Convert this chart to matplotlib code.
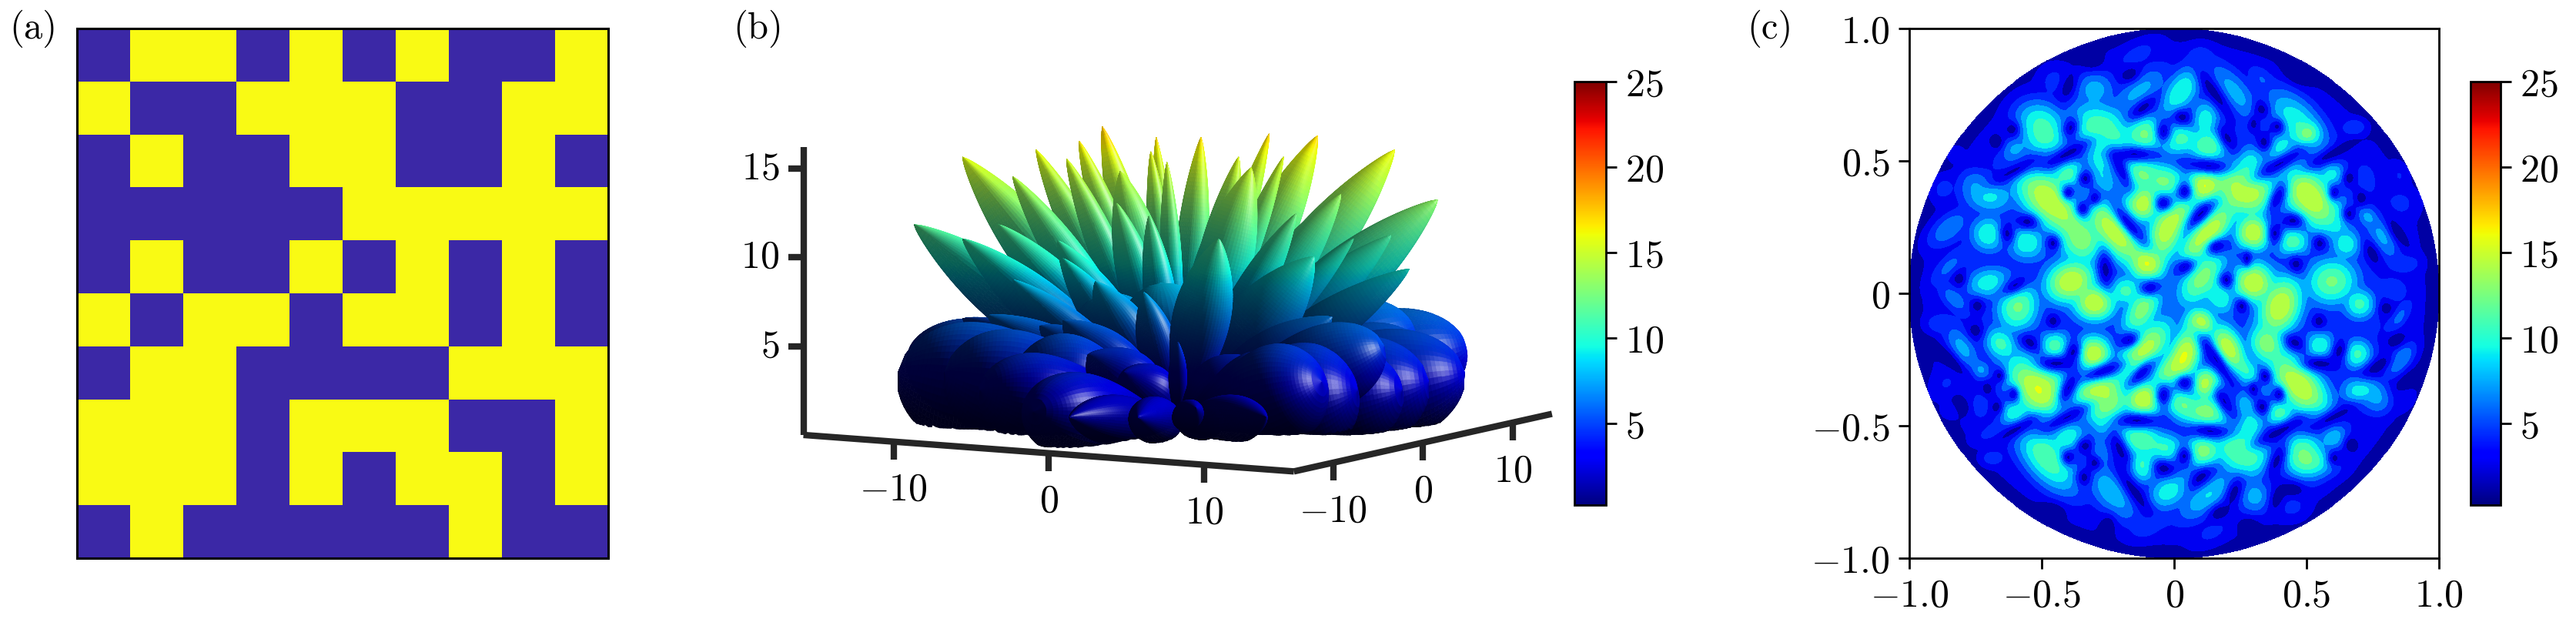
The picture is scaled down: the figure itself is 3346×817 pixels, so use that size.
import numpy as np
import matplotlib
matplotlib.use("Agg")
import matplotlib.pyplot as plt
from matplotlib.colors import ListedColormap, Normalize
from matplotlib.cm import ScalarMappable
from mpl_toolkits.mplot3d import proj3d
from mpl_toolkits.mplot3d.art3d import Poly3DCollection

plt.rcParams['mathtext.fontset'] = 'cm'
plt.rcParams['axes.unicode_minus'] = True

W, H = 3346, 817
FS = 36

# ---- panel (a): coding matrix
coding_rows = [
    [0,1,1,0,1,0,1,0,0,1],
    [1,0,0,1,1,1,0,0,1,1],
    [0,1,0,0,1,1,0,0,1,0],
    [0,0,0,0,0,1,1,1,1,1],
    [0,1,0,0,1,0,1,0,1,0],
    [1,0,1,1,0,1,1,0,1,0],
    [0,1,1,0,0,0,0,1,1,1],
    [1,1,1,0,1,1,1,0,0,1],
    [1,1,1,0,1,0,1,1,0,1],
    [0,1,0,0,0,0,0,1,0,0],
]

cbar_ticks = [5, 10, 15, 20, 25]
cbar_low, cbar_high = 0.2, 25

# ---- panel (c): bright patches
patch_u = [-.45,-.30,-.14,-.13,-.49,-.51,-.27,-.28,-.11,-.60,-.40,-.47,-.35,-.39,-.27,-.35,-.70,-.75,-.87,-.825,
           -.70,-.56,-.85,-.22,-.10,-.03,-.13,-.03,-.12,-.39,-.70,-.85,-.18,-.01,
           -.59,-.30,-.12,-.83,-.88,-.80,-.73,-.655,-.86,-.845,-.73,-.60,-.515,-.46,-.45,-.305,
           -.28,-.26,-.115,-.12,-.02,-.40,-.48,-.685,-.65,-.235,-.13,-.03,-.12,-.03,-.08,-.28,
           .025,.09,.225,.12,.13,.03,.33,.47,.505,.68,.40,.595,.85,.725,.855,.51,.265,.285,.115,.02,
           .125,.30,.445,.65,.615,.73,.79,.875,.105,.30,.595,.83,
           .40,.17,.70,.85,.85,.095,.04,.20,.275,.125,.35,.47,.55,.69,.70,.76,.35,.27,.40,.125,
           .03,.255,.285,.11,.485,.515,.60,.13,.305,.44,.145,.02,.87]
patch_v = [.80,.77,.90,.76,.60,.66,.61,.51,.60,.545,.45,.35,.20,.275,.43,.37,.37,.41,.395,.525,
           .225,.195,.245,.235,.115,.235,.45,.42,.34,.045,.04,.10,.01,.565,
           -.05,-.035,-.06,-.02,-.115,-.21,-.29,-.19,-.34,-.44,-.42,-.455,-.365,-.34,-.20,-.23,
           -.38,-.47,-.40,-.225,-.29,-.545,-.62,-.62,-.52,-.75,-.55,-.585,-.65,-.75,-.865,-.60,
           .76,.885,.76,.655,.555,.59,.81,.635,.60,.625,.545,.45,.445,.43,.34,.365,.39,.49,.405,.29,
           .225,.23,.195,.185,.255,.29,.215,.115,.06,.04,.045,.01,
           -.05,-.01,-.04,-.25,-.09,-.115,-.235,-.21,-.295,-.34,-.19,-.345,-.20,-.23,-.37,-.39,-.37,-.42,-.455,-.45,
           -.42,-.595,-.505,-.595,-.60,-.635,-.545,-.76,-.765,-.80,-.90,-.73,-.395]
patch_peak = [4,7.5,4,7.5,11,7.5,12,9,12,7,11,15,12.5,10,8,5,9,6,4,3,
              10,10,6.5,15,15,14,12,11.5,15,15,9.5,5.5,10.5,9,
              12,15,12.5,6,5,7.5,7,10.5,3.5,3.3,4.5,10,15,10,11,15,
              15,10,15,15,12,10,11.5,4.5,5.5,8,11.5,10,10.5,9,5,7,
              10,5,7.5,9.5,11.5,10,5,10,11.5,5,9.5,9,3.5,5,3.8,15,15,9,15,12,
              15,15,11,9.5,7,7,7.5,5,12.5,15,12,4.5,
              15,10,10.5,7.5,5.5,15,15,15,10,15,12.5,15,10,10.5,9.5,7.5,5,8.5,11,12.5,
              11.5,12.5,9.5,12.5,11.5,10,8,8.5,7.5,4,3.8,7.5,3.5]
patch_long = [.035,.04,.055,.065,.06,.05,.07,.04,.04,.03,.035,.085,.05,.04,.04,.018,.05,.035,.03,.018,
              .035,.04,.05,.085,.035,.07,.06,.04,.035,.05,.045,.05,.04,.04,
              .05,.04,.06,.04,.03,.05,.022,.035,.04,.02,.03,.03,.08,.04,.03,.035,
              .06,.04,.037,.075,.05,.035,.08,.025,.05,.07,.05,.04,.035,.04,.05,.04,
              .06,.03,.075,.04,.04,.04,.035,.08,.025,.025,.04,.027,.03,.03,.04,.08,.07,.04,.037,.06,
              .08,.035,.035,.03,.03,.025,.05,.03,.065,.04,.05,.03,
              .06,.04,.03,.04,.04,.03,.065,.05,.05,.03,.04,.08,.03,.03,.035,.035,.015,.035,.03,.05,
              .04,.06,.04,.035,.05,.05,.03,.07,.035,.038,.05,.05,.03]
patch_wide = [.035,.035,.025,.032,.045,.035,.05,.03,.04,.025,.03,.045,.045,.035,.022,.018,.035,.03,.025,.018,
              .035,.035,.025,.04,.035,.035,.04,.035,.035,.04,.03,.02,.03,.03,
              .04,.035,.03,.02,.02,.025,.018,.028,.03,.018,.02,.03,.045,.035,.03,.035,
              .05,.03,.037,.035,.03,.03,.04,.018,.02,.035,.035,.03,.03,.03,.025,.02,
              .03,.025,.03,.03,.035,.03,.02,.04,.025,.018,.03,.027,.02,.018,.035,.045,.05,.03,.037,.03,
              .03,.035,.03,.03,.025,.018,.03,.02,.035,.04,.045,.025,
              .04,.03,.03,.02,.015,.03,.03,.03,.025,.03,.035,.04,.03,.03,.03,.03,.015,.02,.03,.04,
              .03,.045,.03,.035,.04,.03,.025,.03,.035,.032,.025,.03,.02]
patch_tilt = [0,0,30,42,-60,-10,-30,-70,0,30,30,-45,-50,-50,-60,0,-10,-40,60,0,
              0,-20,40,-50,0,70,-15,0,0,20,10,45,0,0,
              80,0,60,-45,0,-60,-50,-50,50,0,80,0,-50,0,0,0,
              -30,-80,0,50,50,20,-50,0,20,-50,-20,-10,80,40,30,-70,
              55,30,-50,-90,0,-20,-45,-50,0,0,50,0,-70,-80,0,-50,-20,60,0,50,
              50,0,0,0,-50,-50,-60,0,55,0,10,0,
              70,-60,0,50,55,0,70,-65,-50,0,-60,-50,0,0,0,-60,0,-75,0,0,
              -30,-30,60,0,-70,0,40,40,0,0,30,50,60]

# ---- panel (c): dark streaks
gap_u = [-.405,-.60,-.15,-.20,-.337,-.40,-.30,-.345,-.17,-.04,-.457,-.63,-.554,-.67,-.61,-.81,-.60,-.26,-.31,-.167,
         -.39,-.04,-.118,-.40,-.09,
         .595,.40,.13,.20,.15,.03,.34,.30,.39,.33,.10,.38,.45,.55,.39,.04,.66,.605,.707,.66,.46,.197,.275,.46,.16,.04,.84,.75,
         -.41,-.60,-.14,-.205,-.457,-.743,-.75,-.545,-.45,-.38,-.40,-.27,-.17,-.123,-.04,-.04,-.15,-.337,-.40,-.30,-.34,-.457,
         -.845,-.66,-.705,-.607,-.67,-.806,-.25,
         .595,.40,.135,.19,.16,.038,.343,.333,.30,.396,.455,.547,.625,.77,.387,.038,.10,.227,.39,.45,.667,.605,.17,.28,.80,.837,
         .886,.256,.547]
gap_v = [.526,.465,.525,.465,.434,.38,.36,.32,.26,.34,.19,.225,.27,.57,.62,.055,.03,.09,.875,.825,
         .625,.61,.70,.78,.02,
         .526,.49,.48,.585,.76,.665,.57,.64,.63,.695,.30,.226,.275,.19,.36,.385,.435,.38,.36,.30,.82,.05,.13,.11,.177,.10,.23,.15,
         -.47,-.515,-.48,-.585,-.105,-.047,-.14,-.187,-.265,-.22,-.36,-.295,-.177,-.30,-.385,-.66,-.75,-.575,-.62,-.64,-.695,-.817,
         -.25,-.31,-.36,-.38,-.43,-.42,-.875,
         -.47,-.52,-.52,-.41,-.25,-.337,-.313,-.43,-.36,-.38,-.187,-.265,-.216,-.275,-.633,-.613,-.695,-.75,-.77,-.74,-.57,-.623,-.827,-.875,-.056,-.177,
         -.333,-.047,-.105]
gap_long = [.08,.08,.065,.06,.02,.02,.02,.025,.075,.025,.02,.03,.03,.02,.02,.02,.04,.05,.03,.03,
            .03,.03,.045,.04,.03,
            .08,.08,.06,.04,.08,.025,.025,.015,.02,.025,.05,.03,.03,.02,.05,.025,.018,.018,.018,.018,.04,.02,.015,.025,.03,.03,.06,.04,
            .08,.08,.06,.055,.02,.02,.025,.03,.05,.03,.05,.07,.03,.05,.03,.03,.08,.025,.02,.02,.025,.035,
            .07,.018,.018,.018,.018,.03,.03,
            .08,.085,.06,.05,.09,.025,.02,.02,.018,.018,.03,.05,.03,.05,.05,.025,.04,.04,.04,.03,.02,.02,.03,.03,.02,.03,
            .04,.02,.02]
gap_tilt = [28,28,0,-65,0,0,0,90,-50,0,0,-80,0,0,0,0,30,-85,0,25,
            70,90,40,70,10,
            28,30,-5,-60,-55,-20,-80,0,0,-70,45,-85,-5,0,65,85,0,0,0,0,-30,0,0,-80,20,25,-60,-65,
            27,28,0,-65,0,0,-70,-40,0,70,65,20,20,45,85,-10,-55,0,0,0,90,-10,
            -45,0,0,0,0,-60,80,
            27,28,-5,-60,-55,0,0,0,0,0,-30,0,70,30,65,85,40,70,70,0,0,0,25,0,0,20,
            35,0,0]

# ---- panel (b): petals, listed back to front
# sideways position on the page, height on the page, distance behind the origin, half-thickness
petal_side = [16,13,14.5,16,-15,-12,
              -4.2,5.1,-1.2,1.3,7.8,-5.5,-7.9,-1.5,12.1,5.9,3.4,-.6,-6.2,-12,-9.2,-3.2,4.1,
              14.5,-14.7,9.1,6.6,-3.4,-1.6,-10,-12,11.9,9.8,-6.7,-6.4,
              -5,-1,3,
              -9.2,-4.6,-1.9,12.9,7.6,2.3,-10.6,-7.7,-6.4,8.6,
              -15.6,-13,14,-9,12.5,-11,-5,-3,0,4.3,11.5,10,6.5,8,
              -8,-6,-2.2,2.3,4.9,1.0]
petal_rise = [5,6,4,3.5,4.5,6.5,
              17.3,16.9,16.7,16.7,16.8,16.5,16,15.9,16,15.6,15.6,15.3,15.5,15.6,14.5,14.8,15,
              13.2,11.8,13.5,12.4,13,12.3,11.8,11,11.2,11,10.9,9.9,
              7.5,8.5,7.5,
              8.7,8.6,8,9.3,10,11,6.7,6.1,6.4,6.6,
              3.5,3.5,3,3.5,2.5,2.5,4.5,3.5,5.2,4.2,5,2.5,3,3,
              1.3,1,1,.8,1,1.5]
petal_behind = [6,7,2,1,6,8,
                3,3,3,3,3,3,3,3,3,3,3,3,3,3,3,3,2,
                2,2,2,2,2,2,2,2,1,1,1,1,
                1,1,1,
                0,0,0,-1,-1,-2,0,0,0,-1,
                1,-1,-1,-3,-3,-4,-2,-3,-2,-2,-1,-2,-3,-4,
                -11,-11,-13,-11,-10,-8]
petal_thick = [3.2,3,3.2,3.2,3,1.5,
               1.0,.7,.6,.9,1.4,.9,1.0,.7,1.6,.7,1.0,.6,.9,1.6,1.1,1.5,1.6,
               1.8,1.7,1.3,1.0,1.1,.9,1.4,1.4,1.3,.9,1.3,1.1,
               2.4,2.4,2.2,
               1.1,1.5,1.1,1.3,1.9,1.6,1.5,1.6,1.6,1.6,
               3.6,3.2,3.2,3,3,2.6,1.9,1.7,.5,1.7,2.4,3.2,2.4,2.8,
               2.4,1.4,1.3,1.0,1.4,.8]

x_ticks_3d = [-10, 0, 10]
y_ticks_3d = [-10, 0, 10]
z_ticks_3d = [5, 10, 15]
xr = (-15.8, 15.8)
yr = (-14.4, 14.4)
zr = (0.0, 16.2)
ELEV, AZIM = 7.4, -60.0

fig = plt.figure(figsize=(W / 100, H / 100), dpi=100)


def rect(l, t, r, b):
    return [l / W, 1 - b / H, (r - l) / W, (b - t) / H]


def label_num(v):
    return r'$%g$' % v


def label_fixed(v):
    return r'$0$' if v == 0 else r'$%.1f$' % v


# panel (a)
ax_a = fig.add_axes(rect(100, 37, 790, 725))
cm_a = ListedColormap(['#3B28A6', '#F9FA14'])
ax_a.pcolormesh(np.array(coding_rows)[::-1], cmap=cm_a, vmin=0, vmax=1)
ax_a.set_xticks([])
ax_a.set_yticks([])
for s in ax_a.spines.values():
    s.set_linewidth(2.2)

# panel (c)
ax_c = fig.add_axes(rect(2480, 37, 3168, 725))
grid = np.linspace(-1, 1, 701)
uu, vv = np.meshgrid(grid, grid)
SPREAD = 1.72
POWER = 4.0
rho = np.hypot(uu, vv)
field = (1.0 + 3.6 * np.clip(1 - rho ** 5, 0, 1)) ** POWER
for u0, v0, pk, lo, wi, ti in zip(patch_u, patch_v, patch_peak, patch_long, patch_wide, patch_tilt):
    a = np.deg2rad(ti)
    du, dv = uu - u0, vv - v0
    al = (du * np.cos(a) + dv * np.sin(a)) / (lo * SPREAD)
    ac = (-du * np.sin(a) + dv * np.cos(a)) / (wi * SPREAD)
    field += (pk * np.exp(-0.5 * (al ** 2 + ac ** 2))) ** POWER
field = field ** (1 / POWER)
GAP_WIDTH = 0.022
for u0, v0, lo, ti in zip(gap_u, gap_v, gap_long, gap_tilt):
    a = np.deg2rad(ti)
    du, dv = uu - u0, vv - v0
    al = (du * np.cos(a) + dv * np.sin(a)) / lo
    ac = (-du * np.sin(a) + dv * np.cos(a)) / GAP_WIDTH
    field *= 1 - 0.8 * np.exp(-0.5 * (al ** 2 + ac ** 2))
field = np.ma.masked_where(rho > 1, field)
cs = ax_c.contourf(uu, vv, field, levels=np.linspace(cbar_low, cbar_high, 16), cmap='jet',
                   vmin=cbar_low, vmax=cbar_high, extend='both')
cs.set_edgecolor('face')
cs.set_linewidth(0.4)
c_ticks = [-1, -.5, 0, .5, 1]
ax_c.set_xlim(-1, 1)
ax_c.set_ylim(-1, 1)
ax_c.set_xticks(c_ticks)
ax_c.set_yticks(c_ticks)
ax_c.set_xticklabels([label_fixed(v) for v in c_ticks])
ax_c.set_yticklabels([label_fixed(v) for v in c_ticks])
ax_c.tick_params(labelsize=FS, length=10, width=2.0, pad=8, top=False, right=False)
for s in ax_c.spines.values():
    s.set_linewidth(2.0)

# panel (b)
ax_b = fig.add_axes(rect(1160, 14, 1880, 734), projection='3d', proj_type='ortho',
                    computed_zorder=False)
ax_b.view_init(elev=ELEV, azim=AZIM)
ax_b.set_xlim(*xr)
ax_b.set_ylim(*yr)
ax_b.set_zlim(*zr)
ax_b.set_box_aspect((xr[1] - xr[0], yr[1] - yr[0], zr[1] - zr[0]), zoom=1.435)
ax_b.set_axis_off()
ax_b.patch.set_alpha(0)

right = np.array([np.cos(np.deg2rad(30)), np.sin(np.deg2rad(30)), 0.0])
away = np.array([-right[1], right[0], 0.0])
el = np.deg2rad(ELEV)
az = np.deg2rad(AZIM)
view = np.array([np.cos(el) * np.cos(az), np.cos(el) * np.sin(az), np.sin(el)])
light = 0.85 * right + np.array([0, 0, 0.5]) + 0.1 * view
light /= np.linalg.norm(light)
halfway = light + view
halfway /= np.linalg.norm(halfway)
jet = plt.get_cmap('jet')
norm = Normalize(cbar_low, cbar_high)

t = np.linspace(0, 1, 71)
s = np.linspace(0, 2 * np.pi, 49)
T, S = np.meshgrid(t, s, indexing='ij')
for i, (pr, pz, pd, pw) in enumerate(zip(petal_side, petal_rise, petal_behind, petal_thick)):
    tip = pr * right + pd * away + np.array([0, 0, pz - 0.57 - 0.128 * pd])
    L = np.linalg.norm(tip)
    e1 = tip / L
    e2 = np.cross(e1, view)
    e2 /= np.linalg.norm(e2)
    e3 = np.cross(e1, e2)
    if pw > 2:
        prof = pw * np.sin(np.pi * T ** 2.0) ** 0.5
    else:
        prof = pw * np.sin(np.pi * T ** 1.25) ** 0.8
    P = (T[..., None] * tip
         + (prof * np.cos(S))[..., None] * e2
         + (prof * np.sin(S))[..., None] * e3)
    P[..., 2] = np.maximum(P[..., 2], 0)
    dT = np.gradient(P, axis=0)
    dS = np.gradient(P, axis=1)
    n = np.cross(dT, dS)
    n /= np.maximum(np.linalg.norm(n, axis=-1, keepdims=True), 1e-9)
    outward = P - T[..., None] * tip
    flip = np.sum(n * outward, axis=-1) < 0
    n[flip] *= -1
    diff = np.maximum(np.sum(n * light, axis=-1), 0)
    spec = np.maximum(np.sum(n * halfway, axis=-1), 0) ** 40
    rgba = jet(norm(P[..., 2] * 1.08))
    shade = 0.2 + 0.5 * np.minimum(P[..., 2] / 15, 1) ** 2 + 0.7 * diff
    rgb = rgba[..., :3] * np.minimum(shade, 1.0)[..., None]
    rgb = rgb + (1 - rgb) * (0.55 * spec)[..., None]
    rgba[..., :3] = np.clip(rgb, 0, 1)
    # only the quads that face the viewer are kept
    quads = np.stack([P[:-1, :-1], P[1:, :-1], P[1:, 1:], P[:-1, 1:]], axis=2)
    facing = np.sum(n[:-1, :-1] * view, axis=-1) > -0.05
    colors = rgba[:-1, :-1][facing]
    coll = Poly3DCollection(quads[facing], facecolors=colors, edgecolors=colors,
                            linewidths=0.5, zorder=10 + i)
    ax_b.add_collection3d(coll, autolim=False)
    coll.set_clip_on(False)

AXC = '#262626'
AXLW = 6.0
TOP = 200
line_style = dict(color=AXC, lw=AXLW, zorder=TOP, solid_capstyle='butt', clip_on=False)
ax_b.plot([xr[0], xr[1]], [yr[0], yr[0]], [0, 0], **line_style)
ax_b.plot([xr[1], xr[1]], [yr[0], yr[1]], [0, 0], **line_style)
ax_b.plot([xr[0], xr[0]], [yr[0], yr[0]], [0, zr[1]], **line_style)

ax_b.apply_aspect()
proj_matrix = ax_b.get_proj()


def page_text(x3, y3, z3, txt, **kw):
    x2, y2, _ = proj3d.proj_transform(x3, y3, z3, proj_matrix)
    ax_b.text2D(x2, y2, txt, transform=ax_b.transData, fontsize=FS, va='center',
                clip_on=False, zorder=TOP, **kw)


for v in x_ticks_3d:
    ax_b.plot([v, v], [yr[0], yr[0]], [-0.1, -1.0], **line_style)
    page_text(v, yr[0], -2.7, label_num(v), ha='center')
for v in y_ticks_3d:
    ax_b.plot([xr[1], xr[1]], [v, v], [-0.1, -1.0], **line_style)
    page_text(xr[1], v, -2.7, label_num(v), ha='center')
for v in z_ticks_3d:
    p0 = np.array([xr[0], yr[0], v])
    p1 = p0 - 0.85 * right
    ax_b.plot([p0[0], p1[0]], [p0[1], p1[1]], [v, v], **line_style)
    p2 = p0 - 1.35 * right
    page_text(p2[0], p2[1], v, label_num(v), ha='right')

# colour bars
sm = ScalarMappable(norm=norm, cmap='jet')
for l, r in [(2045, 2086), (3209, 3248)]:
    cax = fig.add_axes(rect(l, 106, r, 656))
    cb = fig.colorbar(sm, cax=cax, ticks=cbar_ticks)
    cb.ax.set_yticklabels([label_num(v) for v in cbar_ticks])
    cb.ax.tick_params(labelsize=FS, length=10, width=2.0, pad=8)
    cb.outline.set_linewidth(2.0)

# panel letters
for txt, px in [('(a)', 43), ('(b)', 985), ('(c)', 2299)]:
    fig.text(px / W, 1 - 37 / H, txt, family='cmr10', fontsize=35, ha='center', va='center')

fig.savefig('out.png', dpi=100)
